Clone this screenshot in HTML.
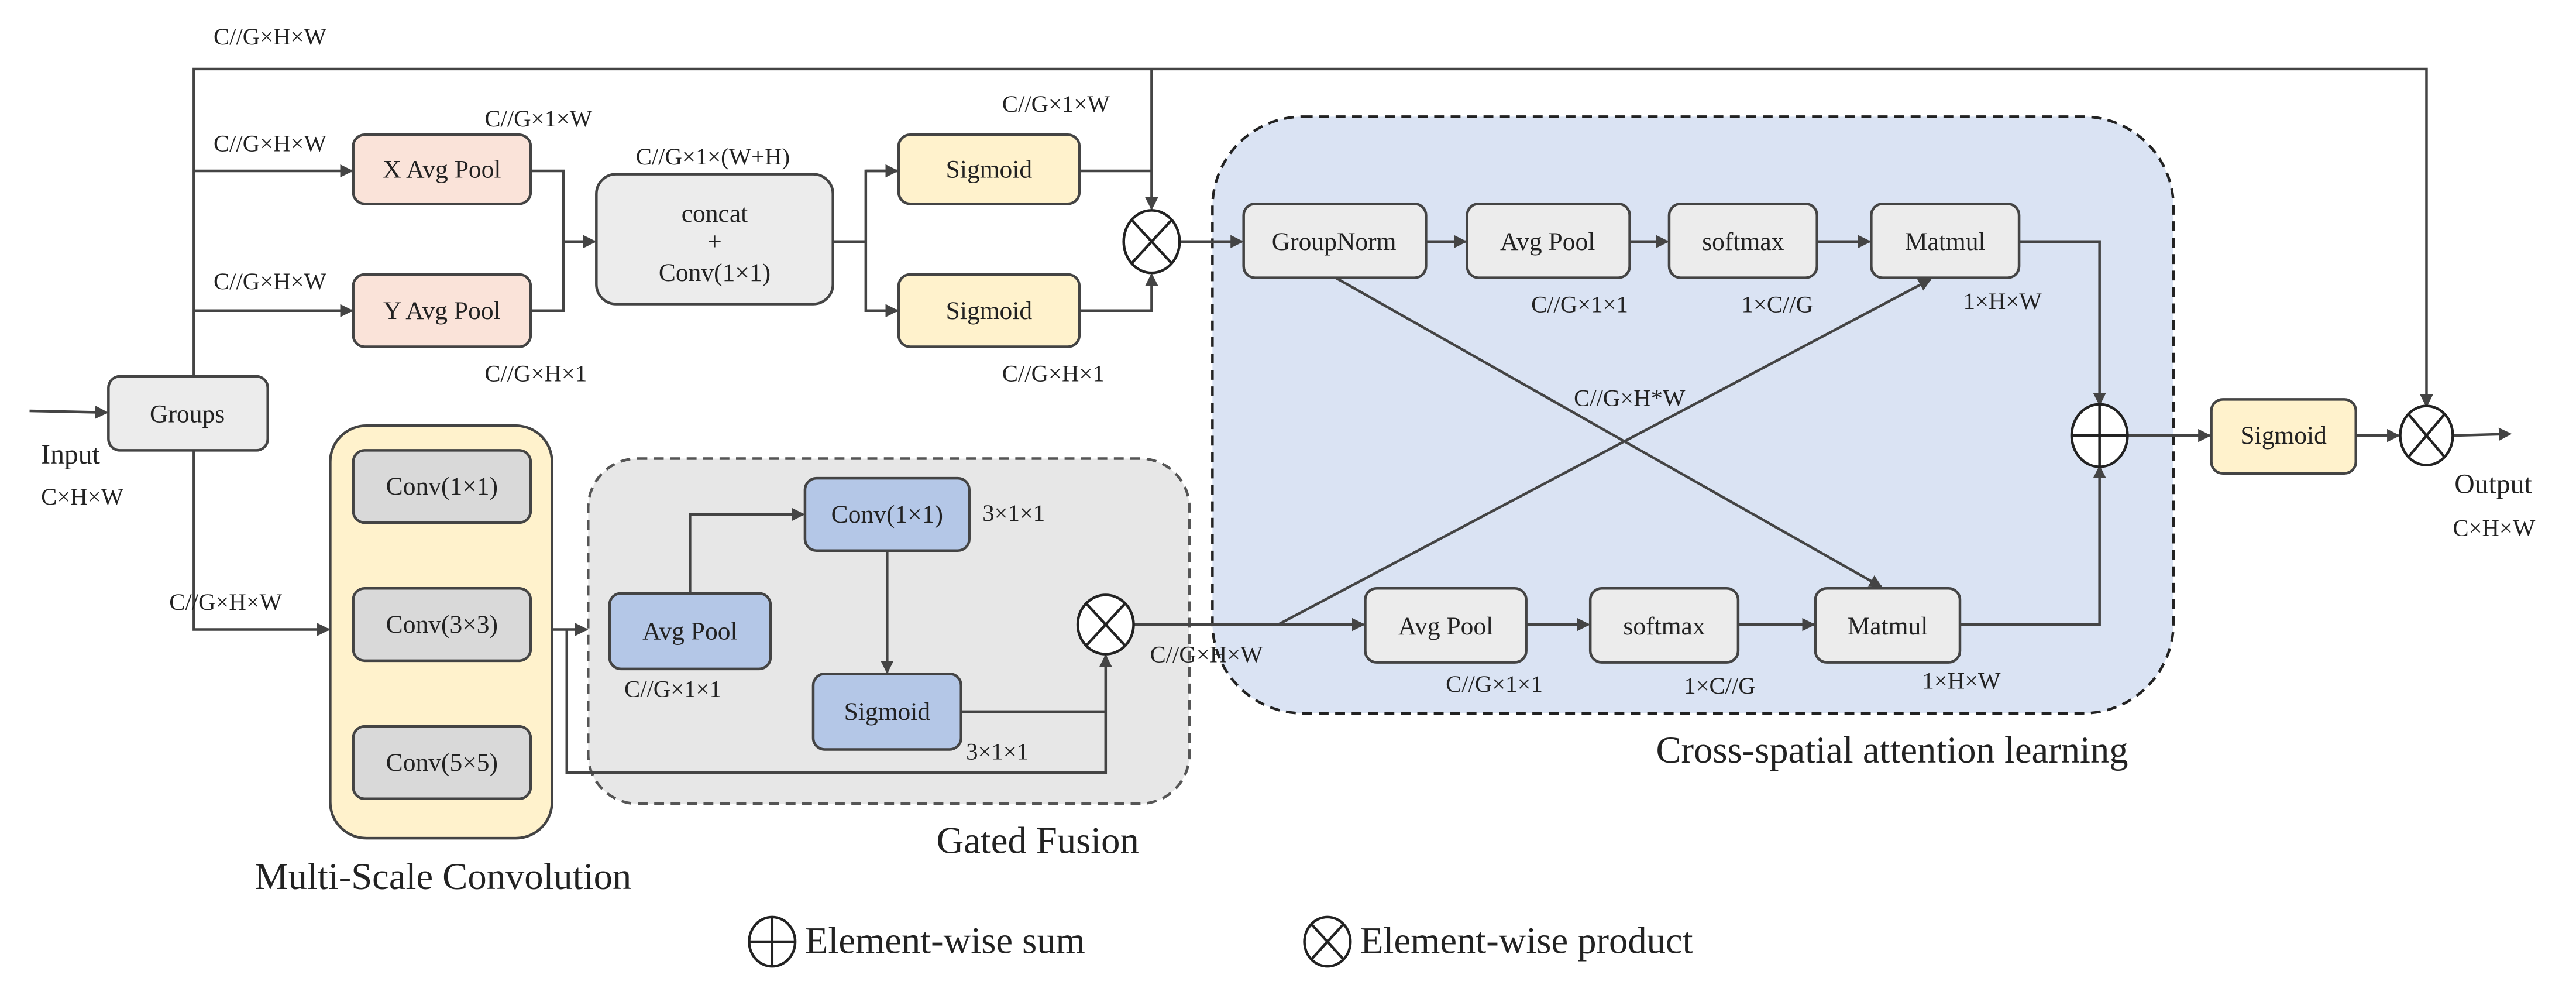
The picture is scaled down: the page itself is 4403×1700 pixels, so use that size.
<!DOCTYPE html>
<html><head><meta charset="utf-8"><style>
html,body{margin:0;padding:0;background:#fff;}
svg{display:block;}
text{font-family:"Liberation Serif",serif;fill:#222;}
</style></head><body>
<svg width="4403" height="1700" viewBox="0 0 1568 605.4" preserveAspectRatio="none" xmlns="http://www.w3.org/2000/svg">
<defs>
<marker id="a" markerWidth="8" markerHeight="8" refX="7" refY="4" orient="auto" markerUnits="userSpaceOnUse">
<path d="M0,0 L8,4 L0,8 z" fill="#444"/></marker>
</defs>
<g stroke="#444" stroke-width="1.6" fill="none">
<rect x="738" y="71" width="585" height="363" rx="55" fill="#dae3f3" stroke="#222" stroke-dasharray="6,4"/>
<rect x="358" y="279" width="366" height="210" rx="30" fill="#e7e7e7" stroke="#555" stroke-dasharray="6,4"/>
<rect x="201" y="259" width="135" height="251" rx="22" fill="#fff2cc" stroke="#444"/>

<polyline points="118,230 118,42 1477,42 1477,247" marker-end="url(#a)"/>
<line x1="701" y1="42" x2="701" y2="127" marker-end="url(#a)"/>
<line x1="18" y1="250" x2="65" y2="251" marker-end="url(#a)"/>
<line x1="118" y1="104" x2="214" y2="104" marker-end="url(#a)"/>
<line x1="118" y1="189" x2="214" y2="189" marker-end="url(#a)"/>
<polyline points="323,104 343,104 343,189 323,189"/>
<line x1="343" y1="147" x2="362" y2="147" marker-end="url(#a)"/>
<line x1="507" y1="147" x2="527" y2="147"/>
<polyline points="546,104 527,104 527,189 546,189"/>
<line x1="527" y1="104" x2="546" y2="104" marker-end="url(#a)"/>
<line x1="527" y1="189" x2="546" y2="189" marker-end="url(#a)"/>
<polyline points="657,104 701,104"/>
<polyline points="657,189 701,189 701,167" marker-end="url(#a)"/>
<line x1="719" y1="147" x2="756" y2="147" marker-end="url(#a)"/>

<line x1="868" y1="147" x2="892" y2="147" marker-end="url(#a)"/>
<line x1="992" y1="147" x2="1015" y2="147" marker-end="url(#a)"/>
<line x1="1106" y1="147" x2="1138" y2="147" marker-end="url(#a)"/>
<polyline points="1229,147 1278,147 1278,246" marker-end="url(#a)"/>
<line x1="929" y1="380" x2="967" y2="380" marker-end="url(#a)"/>
<line x1="1058" y1="380" x2="1104" y2="380" marker-end="url(#a)"/>
<polyline points="1193,380 1278,380 1278,284" marker-end="url(#a)"/>
<line x1="813" y1="169" x2="1145" y2="357" marker-end="url(#a)"/>
<line x1="778" y1="380" x2="1175" y2="170" marker-end="url(#a)"/>
<line x1="690" y1="380" x2="830" y2="380" marker-end="url(#a)"/>
<line x1="1295" y1="265" x2="1345" y2="265" marker-end="url(#a)"/>
<line x1="1434" y1="265" x2="1460" y2="265" marker-end="url(#a)"/>
<line x1="1493" y1="265" x2="1528" y2="264" marker-end="url(#a)"/>

<polyline points="118,274 118,383 200,383" marker-end="url(#a)"/>
<line x1="336" y1="383" x2="357" y2="383" marker-end="url(#a)"/>
<polyline points="345,383 345,470 673,470 673,399" marker-end="url(#a)"/>
<polyline points="420,361 420,313 489,313" marker-end="url(#a)"/>
<line x1="540" y1="335" x2="540" y2="409" marker-end="url(#a)"/>
<line x1="585" y1="433" x2="673" y2="433"/>

<rect x="66" y="229" width="97" height="45" rx="7" fill="#ececec"/>
<rect x="215" y="82" width="108" height="42" rx="7" fill="#fae3d9"/>
<rect x="215" y="167" width="108" height="44" rx="7" fill="#fae3d9"/>
<rect x="363" y="106" width="144" height="79" rx="12" fill="#ececec"/>
<rect x="547" y="82" width="110" height="42" rx="7" fill="#fff2cc"/>
<rect x="547" y="167" width="110" height="44" rx="7" fill="#fff2cc"/>
<rect x="757" y="124" width="111" height="45" rx="7" fill="#ececec"/>
<rect x="893" y="124" width="99" height="45" rx="7" fill="#ececec"/>
<rect x="1016" y="124" width="90" height="45" rx="7" fill="#ececec"/>
<rect x="1139" y="124" width="90" height="45" rx="7" fill="#ececec"/>
<rect x="831" y="358" width="98" height="45" rx="7" fill="#ececec"/>
<rect x="968" y="358" width="90" height="45" rx="7" fill="#ececec"/>
<rect x="1105" y="358" width="88" height="45" rx="7" fill="#ececec"/>
<rect x="1346" y="243" width="88" height="45" rx="7" fill="#fff2cc"/>
<rect x="215" y="274" width="108" height="44" rx="7" fill="#d9d9d9"/>
<rect x="215" y="358" width="108" height="44" rx="7" fill="#d9d9d9"/>
<rect x="215" y="442" width="108" height="44" rx="7" fill="#d9d9d9"/>
<rect x="371" y="361" width="98" height="46" rx="7" fill="#b4c7e7"/>
<rect x="490" y="291" width="100" height="44" rx="7" fill="#b4c7e7"/>
<rect x="495" y="410" width="90" height="46" rx="7" fill="#b4c7e7"/>

<g stroke="#222" fill="#fff">
<ellipse cx="701" cy="147" rx="17" ry="19"/>
<path d="M689,134 L713,160 M713,134 L689,160"/>
<ellipse cx="673" cy="380" rx="17" ry="18"/>
<path d="M661,367 L685,393 M685,367 L661,393"/>
<ellipse cx="1477" cy="265" rx="16" ry="18"/>
<path d="M1466,252 L1488,278 M1488,252 L1466,278"/>
<ellipse cx="1278" cy="265" rx="17" ry="19"/>
<path d="M1261,265 L1295,265 M1278,246 L1278,284"/>
<ellipse cx="470" cy="573" rx="14" ry="15"/>
<path d="M456,573 L484,573 M470,558 L470,588"/>
<ellipse cx="808" cy="573" rx="14" ry="15"/>
<path d="M798,562 L818,584 M818,562 L798,584"/>
</g>
</g>

<g font-size="15.5" text-anchor="middle">
<text x="114" y="257">Groups</text>
<text x="269" y="108">X Avg Pool</text>
<text x="269" y="194">Y Avg Pool</text>
<text x="435" y="135">concat</text>
<text x="435" y="152">+</text>
<text x="435" y="171">Conv(1×1)</text>
<text x="602" y="108">Sigmoid</text>
<text x="602" y="194">Sigmoid</text>
<text x="812" y="152">GroupNorm</text>
<text x="942" y="152">Avg Pool</text>
<text x="1061" y="152">softmax</text>
<text x="1184" y="152">Matmul</text>
<text x="880" y="386">Avg Pool</text>
<text x="1013" y="386">softmax</text>
<text x="1149" y="386">Matmul</text>
<text x="1390" y="270">Sigmoid</text>
<text x="269" y="301">Conv(1×1)</text>
<text x="269" y="385">Conv(3×3)</text>
<text x="269" y="469">Conv(5×5)</text>
<text x="420" y="389">Avg Pool</text>
<text x="540" y="318">Conv(1×1)</text>
<text x="540" y="438">Sigmoid</text>
</g>
<g font-size="14.5">
<text x="130" y="27">C//G×H×W</text>
<text x="130" y="92">C//G×H×W</text>
<text x="130" y="176">C//G×H×W</text>
<text x="295" y="77">C//G×1×W</text>
<text x="295" y="232">C//G×H×1</text>
<text x="387" y="100">C//G×1×(W+H)</text>
<text x="610" y="68">C//G×1×W</text>
<text x="610" y="232">C//G×H×1</text>
<text x="932" y="190">C//G×1×1</text>
<text x="1060" y="190">1×C//G</text>
<text x="1195" y="188">1×H×W</text>
<text x="958" y="247">C//G×H*W</text>
<text x="880" y="421">C//G×1×1</text>
<text x="1025" y="422">1×C//G</text>
<text x="1170" y="419">1×H×W</text>
<text x="700" y="403">C//G×H×W</text>
<text x="103" y="371">C//G×H×W</text>
<text x="380" y="424">C//G×1×1</text>
<text x="598" y="317">3×1×1</text>
<text x="588" y="462">3×1×1</text>
<text x="1493" y="326">C×H×W</text>
<text x="25" y="307">C×H×W</text>
</g>
<g font-size="17">
<text x="25" y="282">Input</text>
<text x="1494" y="300">Output</text>
</g>
<g font-size="23">
<text x="1008" y="464">Cross-spatial attention learning</text>
<text x="570" y="519">Gated Fusion</text>
<text x="155" y="541">Multi-Scale Convolution</text>
<text x="490" y="580">Element-wise sum</text>
<text x="828" y="580">Element-wise product</text>
</g>
</svg>
</body></html>
